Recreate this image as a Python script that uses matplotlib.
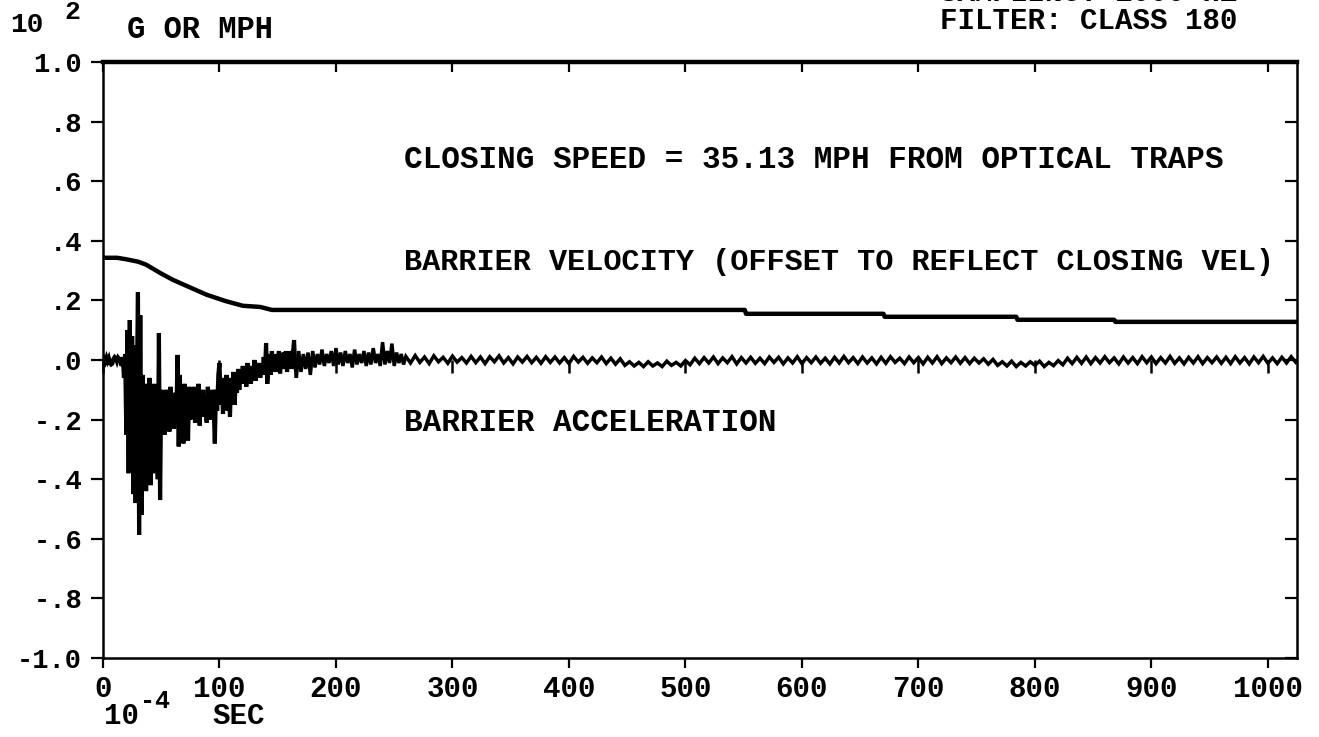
import numpy as np
import matplotlib
matplotlib.use("Agg")
import matplotlib.pyplot as plt

# ---------------- data ----------------
x_ticks = [0, 100, 200, 300, 400, 500, 600, 700, 800, 900, 1000]
x_tick_labels = ["0", "100", "200", "300", "400", "500", "600", "700", "800", "900", "1000"]
y_ticks = [1.0, 0.8, 0.6, 0.4, 0.2, 0.0, -0.2, -0.4, -0.6, -0.8, -1.0]
y_tick_labels = ["1.0", ".8", ".6", ".4", ".2", ".0", "-.2", "-.4", "-.6", "-.8", "-1.0"]

# barrier velocity (x 10^2 MPH, offset), time in 1e-4 s
vel_t = [0, 12, 20, 30, 37, 50, 60, 75, 89, 105, 120, 135, 145,
         551, 552, 670, 671, 784, 785, 868, 869, 1026]
vel_v = [0.343, 0.343, 0.338, 0.330, 0.320, 0.290, 0.269, 0.243, 0.219, 0.198,
         0.182, 0.178, 0.168, 0.168, 0.155, 0.155, 0.145, 0.145, 0.135, 0.135,
         0.128, 0.128]

# barrier acceleration (x 10^2 G) -- segment A: t = 0..165 every sample
acc_a_start, acc_a_step = 0, 1
acc_a = [0.0, 0.005, -0.005, 0.008, -0.004, 0.006, -0.01, -0.015, -0.012, 0.004,
         0.01, 0.006, -0.005, 0.008, 0.003,
         0.0, -0.02, 0.01, -0.06, 0.02,
         -0.25, 0.10, -0.38, 0.134, -0.30, 0.08, -0.45, 0.05, -0.48, -0.10,
         0.228, -0.587, 0.15, -0.52, -0.05,
         -0.40, -0.08, -0.44, -0.12, -0.36, -0.06, -0.42, -0.15, -0.38, -0.08,
         -0.30, -0.18, -0.40,
         0.09, -0.47, -0.10,
         -0.22, -0.12, -0.25, -0.10, -0.20, -0.14, -0.24, -0.09, -0.19, -0.13,
         -0.23, -0.11, -0.18,
         0.017, -0.29, -0.05, -0.26,
         -0.10, -0.28, -0.08, -0.22, -0.12, -0.27, -0.09,
         -0.20, -0.10, -0.18, -0.09, -0.21, -0.12, -0.17, -0.08, -0.22, -0.11,
         -0.16, -0.10, -0.19, -0.13, -0.21, -0.09, -0.15, -0.12, -0.20, -0.10, -0.16,
         -0.28, -0.10, -0.17, -0.05, -0.01,
         -0.15, -0.06, -0.18, -0.08, -0.14, -0.05, -0.17, -0.09, -0.19, -0.06,
         -0.12, -0.04, -0.15, -0.07, -0.11, -0.03, -0.10,
         -0.04, -0.08, -0.02, -0.07, -0.03, -0.09, -0.01, -0.06, -0.03, -0.08,
         -0.02, -0.05, 0.00, -0.07, -0.02, -0.05, -0.01, -0.06, -0.02, -0.04,
         0.01, -0.05,
         0.057, -0.08, -0.03,
         0.02, -0.05, 0.03, -0.03, 0.01, -0.04, 0.02, -0.02, 0.03, -0.045,
         0.01, -0.03, 0.025, -0.02, 0.03, -0.04, 0.01, -0.02, 0.03, -0.03,
         0.02, 0.067, -0.02]

# segment B: t = 166..258 every 2 samples
acc_b_start, acc_b_step = 166, 2
acc_b = [-0.06, 0.03, -0.04, 0.02, -0.03, 0.025, -0.05, 0.03, -0.025, 0.02,
         -0.015, 0.035, -0.02, 0.02, -0.01, 0.03, -0.02, 0.04, -0.015, 0.025,
         -0.02, 0.03, -0.01, 0.02, -0.025, 0.035, -0.015, 0.02, -0.01, 0.03,
         -0.02, 0.025, -0.015, 0.04, -0.01, 0.02, -0.02, 0.06, -0.015, 0.03,
         -0.01, 0.055, -0.02, 0.025, -0.01, 0.02, -0.015]

# segment C: t = 260..1024 every 4 samples
acc_c_start, acc_c_step = 260, 4
acc_c = [0.012, -0.010, 0.015, -0.008, 0.010, -0.012, 0.014, -0.006, 0.009, -0.011, 0.013, -0.007, 0.008, -0.010, 0.012, -0.009,
         0.010, -0.012, 0.011, -0.006, 0.014, -0.010, 0.008, -0.013, 0.010, -0.007, 0.012, -0.009, 0.009, -0.011, 0.011, -0.008,
         0.010, -0.010, 0.008, -0.012, 0.012, -0.007, 0.009, -0.011, 0.007, -0.009, 0.010, -0.012, 0.006, -0.014, 0.004, -0.018,
         -0.006, -0.020, -0.008, -0.022, -0.006, -0.020, -0.010, -0.022, -0.004, -0.018, -0.008, -0.020, -0.002, -0.016, 0.006, -0.012,
         0.008, -0.010, 0.010, -0.012, 0.007, -0.009, 0.011, -0.013, 0.008, -0.010, 0.009, -0.011, 0.006, -0.012, 0.010, -0.008,
         0.009, -0.013, 0.007, -0.010, 0.011, -0.012, 0.008, -0.009, 0.010, -0.011, 0.006, -0.013, 0.009, -0.010, 0.012, -0.009,
         0.008, -0.012, 0.010, -0.010, 0.007, -0.013, 0.009, -0.011, 0.011, -0.008, 0.006, -0.012, 0.010, -0.009, 0.008, -0.013,
         0.009, -0.010, 0.011, -0.012, 0.007, -0.009, 0.010, -0.011, 0.008, -0.012, 0.006, -0.010, 0.004, -0.014, 0.002, -0.018,
         -0.006, -0.020, -0.004, -0.022, -0.008, -0.020, -0.006, -0.018, -0.004, -0.022, -0.008, -0.019, -0.002, -0.016, 0.006, -0.012,
         0.009, -0.011, 0.010, -0.012, 0.008, -0.010, 0.011, -0.009, 0.007, -0.013, 0.010, -0.010, 0.008, -0.012, 0.011, -0.009,
         0.010, -0.012, 0.008, -0.010, 0.012, -0.011, 0.007, -0.013, 0.009, -0.010, 0.011, -0.012, 0.008, -0.009, 0.010, -0.011,
         0.009, -0.012, 0.011, -0.010, 0.008, -0.013, 0.010, -0.009, 0.012, -0.011, 0.007, -0.012, 0.009, -0.010, 0.011, -0.008]

# ---------------- build series ----------------
def seg_times(start, step, vals):
    return start + step * np.arange(len(vals))

t_a = seg_times(acc_a_start, acc_a_step, acc_a)
t_bc = np.concatenate([t_a[-1:],
                       seg_times(acc_b_start, acc_b_step, acc_b),
                       seg_times(acc_c_start, acc_c_step, acc_c)])
v_bc = np.concatenate([acc_a[-1:], acc_b, acc_c])

# ---------------- figure ----------------
W, H = 1319, 737
FONT = "Liberation Mono"
plt.rcParams["font.family"] = [FONT, "DejaVu Sans Mono"]
plt.rcParams["font.weight"] = "bold"

fig = plt.figure(figsize=(W / 100, H / 100), dpi=100)
ax = fig.add_axes([103 / W, 1 - 658 / H, (1297 - 103) / W, (658 - 62) / H])

ax.plot(t_a, acc_a, color="black", lw=3.0, solid_joinstyle="miter")
ax.plot(t_bc, v_bc, color="black", lw=2.5, solid_joinstyle="miter")
ax.plot(vel_t, vel_v, color="black", lw=3.2)

ax.set_xlim(0, 1025)
ax.set_ylim(-1.0, 1.0)

# zero reference axis with downward ticks
zax = ax.secondary_xaxis(0.5)
zax.set_xticks(x_ticks)
zax.tick_params(axis="x", direction="out", length=9, width=1.8, labelbottom=False,
                labeltop=False, bottom=True, top=False)
zax.spines["bottom"].set_linewidth(2.8)
zax.spines["top"].set_visible(False)
for s in ("left", "right"):
    if s in zax.spines:
        zax.spines[s].set_visible(False)

ax.set_xticks(x_ticks)
ax.set_xticklabels(x_tick_labels)
ax.set_yticks(y_ticks)
ax.set_yticklabels(y_tick_labels)

ax.tick_params(axis="x", which="both", bottom=True, top=True, direction="out",
               length=7, width=1.6, labelsize=21, pad=5)
ax.tick_params(axis="y", which="both", left=True, right=True, direction="out",
               length=9, width=1.6, labelsize=19.5, pad=6)
for t in ax.xaxis.get_major_ticks():
    t.tick2line.set_marker(3)  # top ticks point inward (down)
    t.tick2line.set_markersize(7)
for t in ax.yaxis.get_major_ticks():
    t.tick2line.set_marker(0)  # right ticks point inward (left)
    t.tick2line.set_markersize(9)

for lbl in ax.get_xticklabels() + ax.get_yticklabels():
    lbl.set_fontweight("bold")

ax.spines["top"].set_linewidth(3.2)
ax.spines["bottom"].set_linewidth(1.8)
ax.spines["left"].set_linewidth(1.8)
ax.spines["right"].set_linewidth(1.8)


def ftext(px, py, s, size, ha="left", va="center"):
    fig.text(px / W, 1 - py / H, s, fontsize=size, ha=ha, va=va,
             fontweight="bold", color="black")

# annotations inside the plot
ftext(404, 160, "CLOSING SPEED = 35.13 MPH FROM OPTICAL TRAPS", 22.3)
ftext(404, 262, "BARRIER VELOCITY (OFFSET TO REFLECT CLOSING VEL)", 21.8)
ftext(404, 423, "BARRIER ACCELERATION", 22.3)

# axis unit labels
ftext(10, 25, "10", 20)
ftext(64, 12, "2", 19)
ftext(127, 30, "G OR MPH", 22)
ftext(104, 716, "10", 21)
ftext(140, 701, "-4", 18)
ftext(212, 716, "SEC", 21)

# header (top right, partly cut off as in the source)
ftext(1237, 1, "SAMPLING: 1000 HZ", 21, ha="right", va="baseline")
ftext(1237, 21, "FILTER: CLASS 180", 21, ha="right", va="center")

fig.savefig("out.png", dpi=100, facecolor="white")
